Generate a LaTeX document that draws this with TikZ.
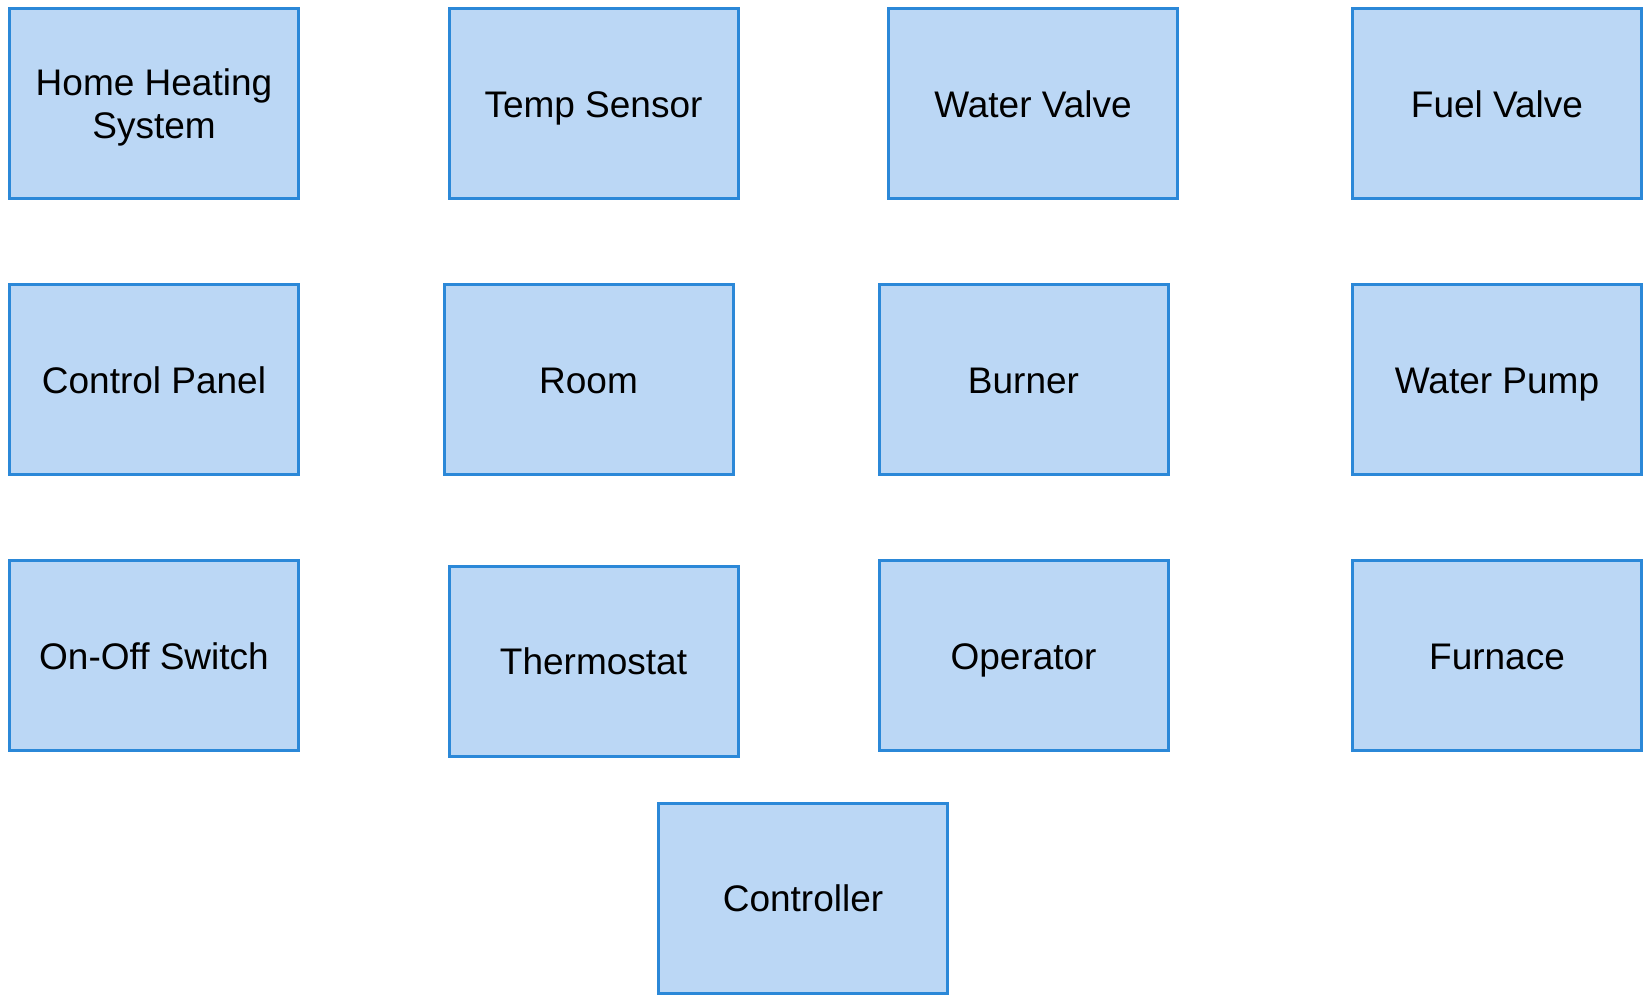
\documentclass[tikz,border=0pt]{standalone}
\usepackage{fontspec}
\setmainfont{Liberation Sans}
\usepackage{tikz}
\usetikzlibrary{positioning}
\definecolor{boxfill}{HTML}{BBD7F5}
\definecolor{boxline}{HTML}{2B88D8}
\tikzstyle{unitbox}=[draw=boxline,fill=boxfill,line width=3pt,shape=rectangle,minimum width=289pt,minimum height=190pt,inner sep=0pt,align=center,text height=27pt,text depth=0pt,font=\fontsize{37}{43}\selectfont]

\begin{document}
\begin{tikzpicture}[x=1pt, y=-1pt]
	\useasboundingbox (0,0) rectangle (1644,994);

	\node[unitbox, text height=] (home) at (154,103.5) {Home Heating\\System};
	\node[unitbox] (sensor) at (593.5,103.5) {Temp Sensor};
	\node[unitbox] (wvalve) at (1033,103.5) {Water Valve};
	\node[unitbox] (fvalve) at (1497,103.5) {Fuel Valve};

	\node[unitbox] (panel) at (154,379.5) {Control Panel};
	\node[unitbox] (room) at (588.5,379.5) {Room};
	\node[unitbox] (burner) at (1023.5,379.5) {Burner};
	\node[unitbox] (pump) at (1497,379.5) {Water Pump};

	\node[unitbox] (switch) at (154,655.5) {On-Off Switch};
	\node[unitbox] (thermo) at (593.5,661) {Thermostat};
	\node[unitbox] (operator) at (1023.5,655.5) {Operator};
	\node[unitbox] (furnace) at (1497,655.5) {Furnace};

	\node[unitbox] (ctrl) at (803,898) {Controller};

\end{tikzpicture}
\end{document}
